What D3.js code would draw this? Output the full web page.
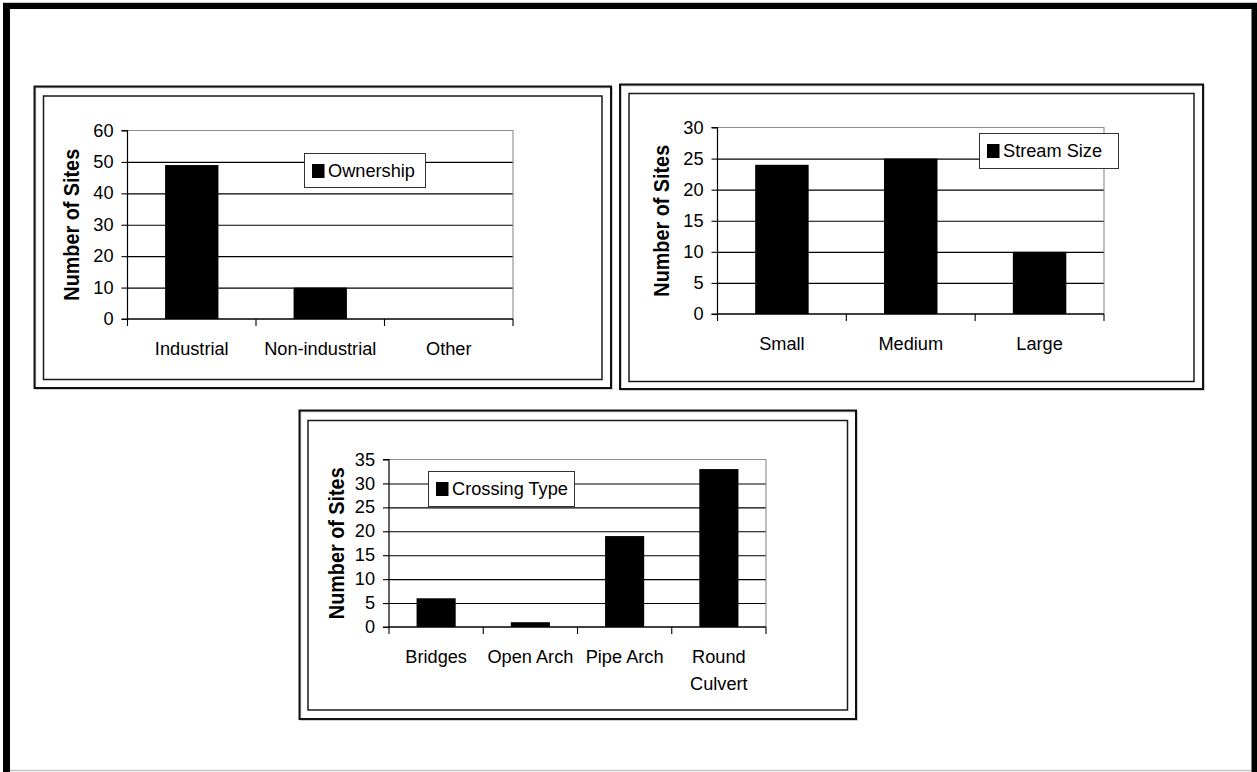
<!DOCTYPE html>
<html>
<head>
<meta charset="utf-8">
<script src="https://cdn.jsdelivr.net/npm/d3@7"></script>
<style>
  html, body { margin: 0; padding: 0; background: #fff; }
  svg { display: block; }
</style>
</head>
<body>
<svg id="page" width="1257" height="772"></svg>
<script>
// ---- data ----
const ownershipCategories = ["Industrial", "Non-industrial", "Other"];
const ownershipSites = [49, 10, 0];
const ownershipTicks = [0, 10, 20, 30, 40, 50, 60];

const streamCategories = ["Small", "Medium", "Large"];
const streamSites = [24, 25, 10];
const streamTicks = [0, 5, 10, 15, 20, 25, 30];

const crossingCategories = ["Bridges", "Open Arch", "Pipe Arch", "Round Culvert"];
const crossingSites = [6, 1, 19, 33];
const crossingTicks = [0, 5, 10, 15, 20, 25, 30, 35];

const seriesNames = ["Ownership", "Stream Size", "Crossing Type"];
const axisTitle = "Number of Sites";

// ---- layout ----
const FONT = '"Liberation Sans", Arial, Helvetica, sans-serif';
const SX = 1.04;          // horizontal text stretch
const LABEL_SIZE = 17.5;
const TITLE_SIZE = 19.8;

const layouts = [
  { outer: [34.5, 86.5, 611, 388], inner: [43.5, 96, 602, 379.5],
    plot: { left: 127.5, top: 130.5, right: 513, bottom: 319 },
    legend: { x: 304, y: 153, w: 121, h: 34 }, titleX: 71 },
  { outer: [620, 84.5, 1203, 389], inner: [629, 93.5, 1194, 381.5],
    plot: { left: 717.5, top: 127.5, right: 1104, bottom: 314 },
    legend: { x: 979, y: 133, w: 139, h: 35 }, titleX: 660.5 },
  { outer: [299.5, 410.5, 856, 719], inner: [308, 420.5, 847.5, 710],
    plot: { left: 389, top: 459.5, right: 766, bottom: 627 },
    legend: { x: 428, y: 471, w: 146, h: 35 }, titleX: 336 }
];

const datasets = [
  { categories: ownershipCategories, values: ownershipSites, ticks: ownershipTicks, name: seriesNames[0] },
  { categories: streamCategories, values: streamSites, ticks: streamTicks, name: seriesNames[1] },
  { categories: crossingCategories, values: crossingSites, ticks: crossingTicks, name: seriesNames[2] }
];

const svg = d3.select("#page").attr("font-family", FONT);

// ---- page frame ----
svg.append("rect").attr("width", 1257).attr("height", 772).attr("fill", "#fff");
svg.append("line").attr("x1", 3).attr("x2", 1257).attr("y1", 2.5).attr("y2", 2.5)
  .attr("stroke", "#c8c8c8").attr("stroke-width", 1);
svg.append("line").attr("x1", 10).attr("x2", 1251).attr("y1", 770.5).attr("y2", 770.5)
  .attr("stroke", "#c4c4c4").attr("stroke-width", 1.5);
svg.append("rect").attr("x", 3).attr("y", 3).attr("width", 1254).attr("height", 6).attr("fill", "#000");
svg.append("rect").attr("x", 3).attr("y", 3).attr("width", 7).attr("height", 769).attr("fill", "#000");
svg.append("rect").attr("x", 1251.5).attr("y", 3).attr("width", 5.5).attr("height", 769).attr("fill", "#000");

function boxRect(g, b, width, color) {
  g.append("rect")
    .attr("x", b[0]).attr("y", b[1])
    .attr("width", b[2] - b[0]).attr("height", b[3] - b[1])
    .attr("fill", "none").attr("stroke", color).attr("stroke-width", width);
}

function drawChart(data, lay) {
  const g = svg.append("g");

  // double frame around the chart
  boxRect(g, [lay.outer[0] + 1, lay.outer[1] + 1, lay.outer[2] + 1, lay.outer[3] + 1], 1.5, "#bdbdbd");
  boxRect(g, lay.outer, 2, "#111");
  boxRect(g, lay.inner, 1.5, "#1a1a1a");

  const p = lay.plot;
  const maxV = d3.max(data.ticks);
  const y = d3.scaleLinear().domain([0, maxV]).range([p.bottom, p.top]);
  const pad = 0.585;
  const x = d3.scaleBand().domain(data.categories).range([p.left, p.right])
    .paddingInner(pad).paddingOuter(pad / 2);

  // gridlines
  const grid = g.append("g").attr("transform", `translate(${p.left},0)`)
    .call(d3.axisLeft(y).tickValues(data.ticks.filter(t => t > 0 && t < maxV))
      .tickSize(-(p.right - p.left)).tickFormat(""));
  grid.select(".domain").remove();
  grid.selectAll(".tick line").attr("stroke", "#000").attr("stroke-width", 1.1);

  // plot area border (top and right)
  g.append("path")
    .attr("d", `M${p.left},${p.top}H${p.right}V${p.bottom}`)
    .attr("fill", "none").attr("stroke", "#8c8c8c").attr("stroke-width", 1.1);

  // bars
  g.selectAll("rect.bar").data(data.categories).join("rect")
    .attr("class", "bar")
    .attr("x", d => x(d))
    .attr("width", x.bandwidth())
    .attr("y", (d, i) => y(data.values[i]))
    .attr("height", (d, i) => y(0) - y(data.values[i]))
    .attr("fill", "#000");

  // value axis
  const ya = g.append("g").attr("transform", `translate(${p.left},0)`)
    .call(d3.axisLeft(y).tickValues(data.ticks).tickSize(6).tickPadding(9).tickFormat(d3.format("d")));
  ya.select(".domain").attr("stroke", "#000").attr("stroke-width", 1.2)
    .attr("d", `M-6,${p.top}H0V${p.bottom}H-6`);
  ya.selectAll(".tick line").attr("stroke", "#000").attr("stroke-width", 1.1);
  ya.selectAll(".tick text")
    .attr("font-family", FONT).attr("font-size", LABEL_SIZE).attr("fill", "#000")
    .attr("x", -14 / SX).attr("transform", `scale(${SX},1)`);

  // category axis
  const xa = g.append("g").attr("transform", `translate(0,${p.bottom})`)
    .call(d3.axisBottom(x).tickSize(0).tickPadding(0));
  xa.select(".domain").remove();
  xa.selectAll(".tick line").remove();
  xa.selectAll(".tick text").each(function (d) {
    const t = d3.select(this);
    t.attr("font-family", FONT).attr("font-size", LABEL_SIZE).attr("fill", "#000")
      .attr("dy", null).attr("y", 36.5).attr("transform", `scale(${SX},1)`);
    const width = this.getComputedTextLength() * SX;
    if (width > x.step() - 4) {
      const words = d.split(" ");
      t.text(null);
      words.forEach((w, i) => {
        t.append("tspan").attr("x", 0).attr("dy", i === 0 ? 0 : 27).text(w);
      });
    }
  });
  g.append("line").attr("x1", p.left).attr("x2", p.right)
    .attr("y1", p.bottom).attr("y2", p.bottom)
    .attr("stroke", "#000").attr("stroke-width", 1.3);
  const bounds = d3.range(data.categories.length + 1).map(i => p.left + i * x.step());
  g.selectAll("line.xtick").data(bounds).join("line")
    .attr("class", "xtick")
    .attr("x1", d => d).attr("x2", d => d)
    .attr("y1", p.bottom).attr("y2", p.bottom + 7)
    .attr("stroke", "#000").attr("stroke-width", 1.1);

  // axis title
  g.append("g")
    .attr("transform", `translate(${lay.titleX},${(p.top + p.bottom) / 2}) scale(1.15,1) rotate(-90)`)
    .append("text")
    .attr("text-anchor", "middle").attr("dy", "0.36em")
    .attr("font-family", FONT).attr("font-size", TITLE_SIZE).attr("font-weight", "bold")
    .attr("fill", "#000")
    .text(axisTitle);

  // legend
  const L = lay.legend;
  const lg = g.append("g");
  lg.append("rect").attr("x", L.x + 0.5).attr("y", L.y + 0.5).attr("width", L.w).attr("height", L.h)
    .attr("fill", "#fff").attr("stroke", "#333").attr("stroke-width", 1);
  lg.append("rect").attr("x", L.x + 8).attr("y", L.y + 11).attr("width", 12.5).attr("height", 14)
    .attr("fill", "#000");
  lg.append("text")
    .attr("transform", `translate(${L.x + 24},${L.y + 23.5}) scale(${SX},1)`)
    .attr("font-family", FONT).attr("font-size", LABEL_SIZE).attr("fill", "#000")
    .text(data.name);
}

datasets.forEach((d, i) => drawChart(d, layouts[i]));
</script>
</body>
</html>
